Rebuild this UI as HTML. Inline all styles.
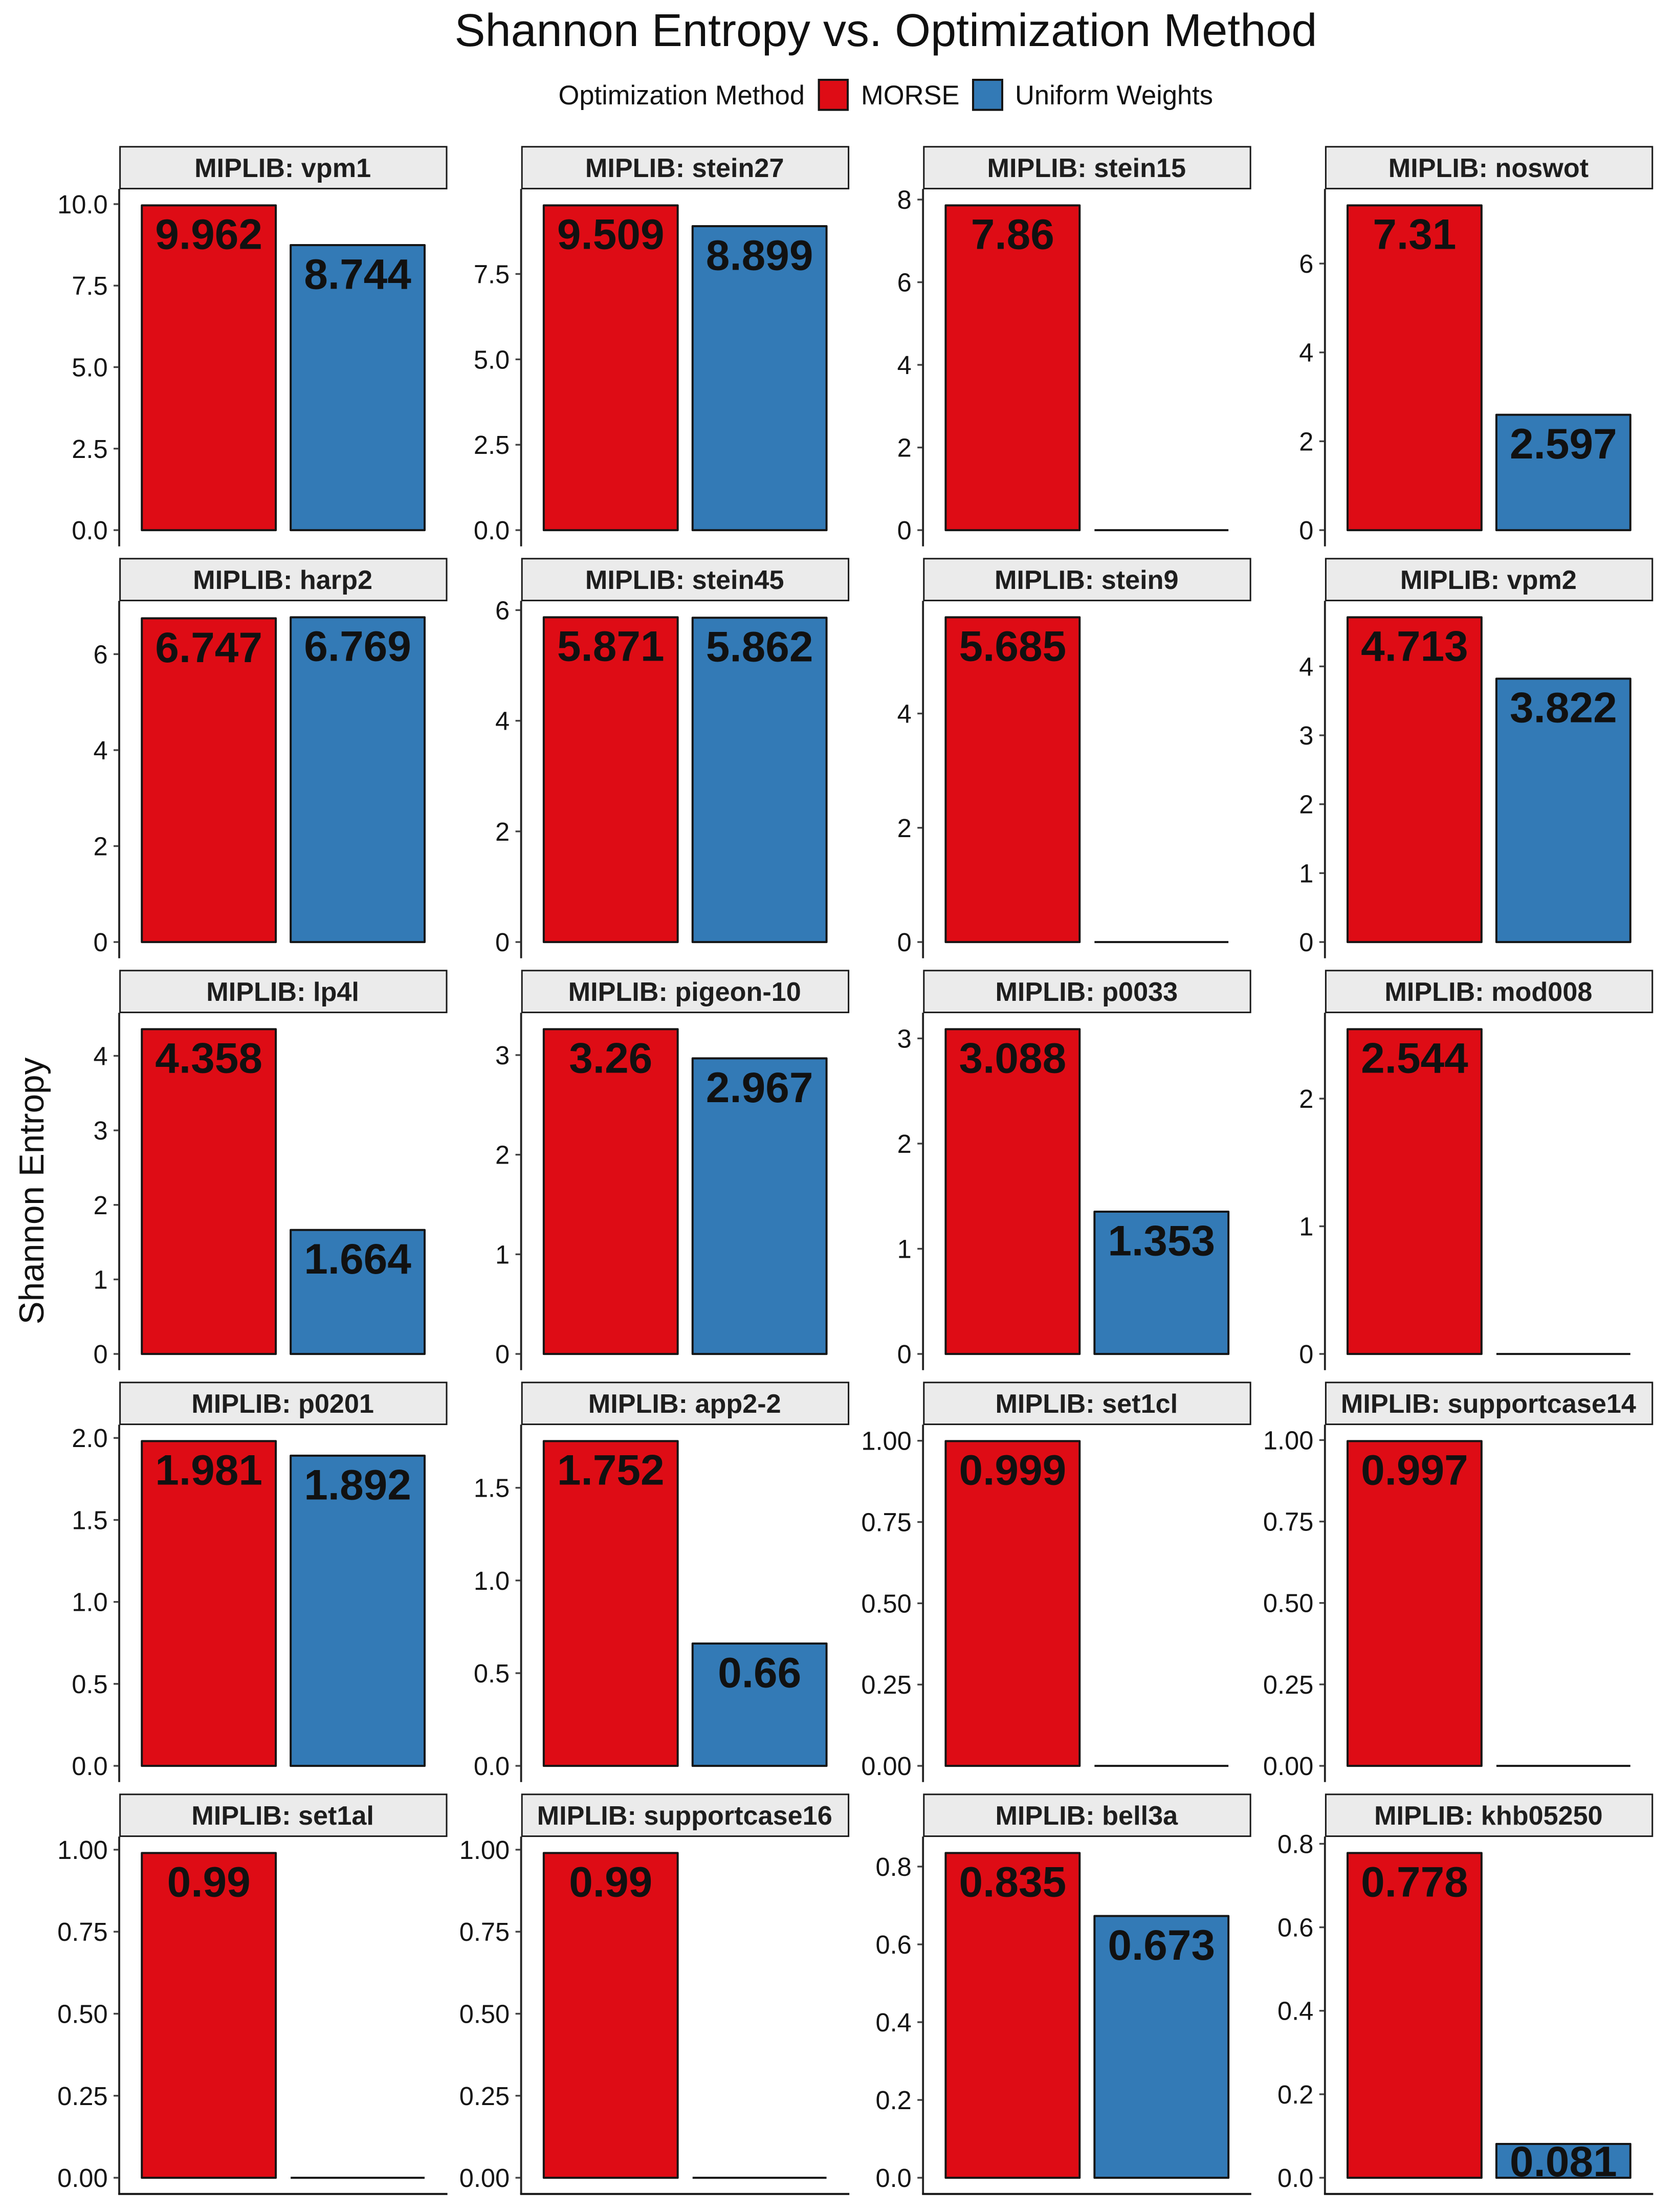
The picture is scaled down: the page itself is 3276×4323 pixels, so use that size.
<!DOCTYPE html>
<html lang="en">
<head>
<meta charset="utf-8">
<title>Shannon Entropy vs. Optimization Method</title>
<style>
html,body{margin:0;padding:0;background:#fff;}
svg{display:block;font-family:"Liberation Sans",Arial,sans-serif;}
.tick-label{font-size:50.6px;fill:#151515;text-anchor:end;}
.strip-label{font-size:52.2px;font-weight:bold;fill:#1e1e1e;text-anchor:middle;}
.value-label{font-size:83.8px;font-weight:bold;fill:#111;text-anchor:middle;}
</style>
</head>
<body>
<svg id="chart" xmlns="http://www.w3.org/2000/svg" width="3276" height="4323" viewBox="0 0 3276 4323">
  <rect x="0" y="0" width="3276" height="4323" fill="#ffffff"/>
  <text x="1731.5" y="90" font-size="90" fill="#111" text-anchor="middle">Shannon Entropy vs. Optimization Method</text>
  <g>
    <text x="1091.5" y="204" font-size="52.5" fill="#111">Optimization Method</text>
    <rect x="1600.6" y="156" width="56.4" height="58.7" fill="#DE0C15" stroke="#151515" stroke-width="4"/>
    <text x="1683" y="204" font-size="52.5" fill="#111">MORSE</text>
    <rect x="1902" y="156" width="57" height="58.7" fill="#337AB6" stroke="#151515" stroke-width="4"/>
    <text x="1984" y="204" font-size="52.5" fill="#111">Uniform Weights</text>
  </g>
  <text transform="translate(85,2327.5) rotate(-90)" font-size="67.5" fill="#111" text-anchor="middle">Shannon Entropy</text>
  <g id="panels"></g>
</svg>
<script>
const benchmarkNames = ["vpm1","stein27","stein15","noswot","harp2","stein45","stein9","vpm2","lp4l","pigeon-10","p0033","mod008","p0201","app2-2","set1cl","supportcase14","set1al","supportcase16","bell3a","khb05250"];
const morseEntropy = [9.962,9.509,7.86,7.31,6.747,5.871,5.685,4.713,4.358,3.26,3.088,2.544,1.981,1.752,0.999,0.997,0.99,0.99,0.835,0.778];
const uniformEntropy = [8.744,8.899,0,2.597,6.769,5.862,0,3.822,1.664,2.967,1.353,0,1.892,0.66,0,0,0,0,0.673,0.081];
const tickLabelSets = [
  ["0.0","2.5","5.0","7.5","10.0"],
  ["0.0","2.5","5.0","7.5"],
  ["0","2","4","6","8"],
  ["0","2","4","6"],
  ["0","2","4","6"],
  ["0","2","4","6"],
  ["0","2","4"],
  ["0","1","2","3","4"],
  ["0","1","2","3","4"],
  ["0","1","2","3"],
  ["0","1","2","3"],
  ["0","1","2"],
  ["0.0","0.5","1.0","1.5","2.0"],
  ["0.0","0.5","1.0","1.5"],
  ["0.00","0.25","0.50","0.75","1.00"],
  ["0.00","0.25","0.50","0.75","1.00"],
  ["0.00","0.25","0.50","0.75","1.00"],
  ["0.00","0.25","0.50","0.75","1.00"],
  ["0.0","0.2","0.4","0.6","0.8"],
  ["0.0","0.2","0.4","0.6","0.8"]
];

const NS = "http://www.w3.org/2000/svg";
const COLUMNS = 4;
const ROWS = 5;
const layout = {
  panelLeft: 233.6, panelTop: 369.6, panelWidth: 640, panelHeight: 698.2,
  columnPitch: 785.6, rowPitch: 805, stripHeight: 81.8, stripGap: 1
};
const fillMorse = "#DE0C15";
const fillUniform = "#337AB6";
const root = document.getElementById("panels");

function make(tag, parent, attrs, text) {
  const el = document.createElementNS(NS, tag);
  for (const k in attrs) el.setAttribute(k, attrs[k]);
  if (text !== undefined) el.textContent = text;
  parent.appendChild(el);
  return el;
}
function xScale(position, left) {
  return left + (position - 0.4) / 2.2 * layout.panelWidth;
}
function yScale(value, maxValue, top) {
  const unit = layout.panelHeight / 1.1 / maxValue;
  return top + layout.panelHeight - layout.panelHeight * 0.05 / 1.1 - value * unit;
}
function drawBar(group, name, value, position, maxValue, left, top, fill) {
  const x0 = xScale(position - 0.45, left);
  const x1 = xScale(position + 0.45, left);
  const yTop = yScale(value, maxValue, top);
  const yZero = yScale(0, maxValue, top);
  if (value > 0) {
    const bar = make("rect", group, {x: x0, y: yTop, width: x1 - x0, height: yZero - yTop, fill: fill, stroke: "#151515", "stroke-width": 4, "stroke-linejoin": "round"});
    
    
    const baseline = Math.min(yTop + 85.4, yZero - 3);
    const label = make("text", group, {x: (x0 + x1) / 2, y: baseline, class: "value-label"}, String(value));
    
    
  } else {
    const flat = make("line", group, {x1: x0, x2: x1, y1: yZero, y2: yZero, stroke: "#151515", "stroke-width": 4});
    
    
  }
}

benchmarkNames.forEach(function (name, i) {
  const col = i % COLUMNS;
  const row = Math.floor(i / COLUMNS);
  const left = layout.panelLeft + col * layout.columnPitch;
  const top = layout.panelTop + row * layout.rowPitch;
  const maxValue = Math.max(morseEntropy[i], uniformEntropy[i]);

  const g = make("g", root, {});
  
  

  const stripBox = make("rect", g, {x: left + 1, y: top - layout.stripHeight - layout.stripGap, width: layout.panelWidth - 1.6, height: layout.stripHeight, fill: "#EBEBEB", stroke: "#1a1a1a", "stroke-width": 3});
  
  

  const stripText = make("text", g, {x: left + layout.panelWidth / 2 - 1, y: top - 23.6, class: "strip-label"}, "MIPLIB: " + name);
  
  

  drawBar(g, name + '-morse', morseEntropy[i], 1, maxValue, left, top, fillMorse);
  drawBar(g, name + '-uniform', uniformEntropy[i], 2, maxValue, left, top, fillUniform);

  const axis = make("line", g, {x1: left - 0.6, x2: left - 0.6, y1: top - 0.3, y2: top + layout.panelHeight, stroke: "#222", "stroke-width": 3.8});
  
  

  tickLabelSets[i].forEach(function (tickText) {
    const y = yScale(parseFloat(tickText), maxValue, top);
    const tick = make("line", g, {x1: left - 11.6, x2: left - 2, y1: y, y2: y, stroke: "#444", "stroke-width": 3.4});
    
    
    const tickLabel = make("text", g, {x: left - 23, y: y + 18, class: "tick-label"}, tickText);
    
    
  });

  if (row === ROWS - 1) {
    const xAxis = make("line", g, {x1: left - 2.5, x2: left + layout.panelWidth + 1, y1: top + layout.panelHeight, y2: top + layout.panelHeight, stroke: "#151515", "stroke-width": 4});
    
    
  }
});
</script>
</body>
</html>
